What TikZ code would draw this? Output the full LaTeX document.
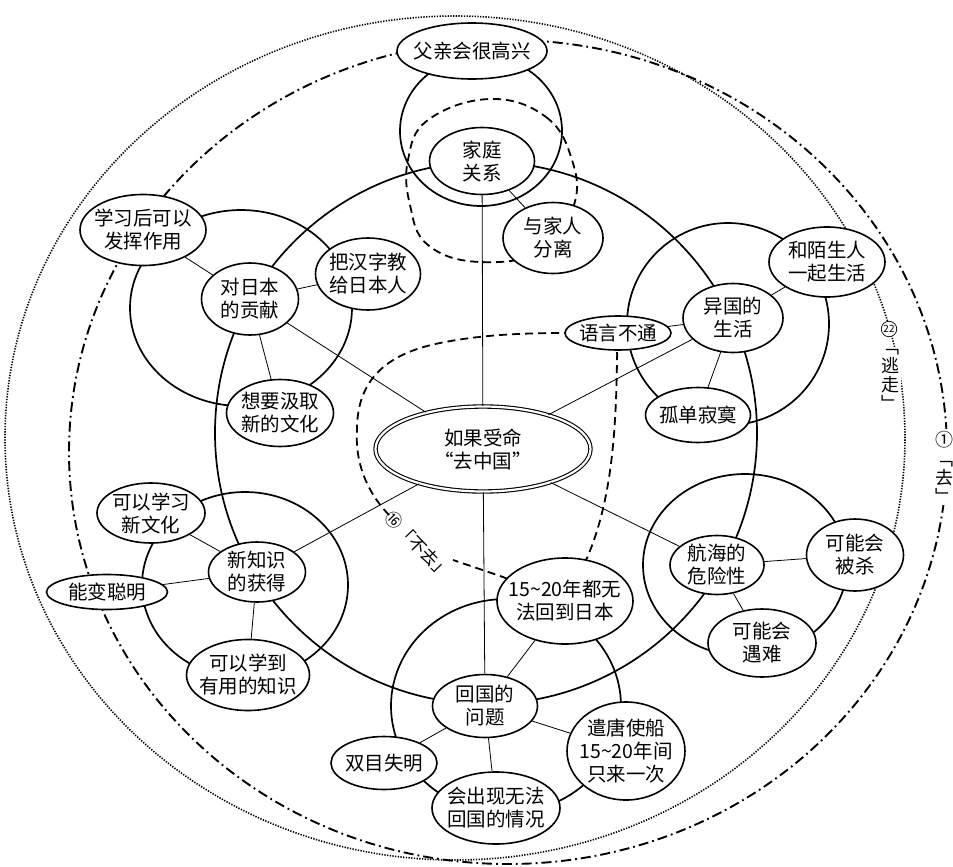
\documentclass[tikz,border=0pt]{standalone}
\usepackage{fontspec}
\setmainfont{Noto Sans CJK SC}
\usetikzlibrary{shapes.geometric}
\begin{document}
\begin{tikzpicture}[x=1pt,y=-1pt,
  ring/.style={line width=1.7pt},
  bub/.style 2 args={ellipse,draw,line width=1.6pt,fill=white,minimum width=#1pt,minimum height=#2pt,inner sep=0pt},
  txt/.style={align=center,inner sep=0pt,font=\fontsize{19.5}{23}\selectfont},
  spoke/.style={line width=0.8pt},
  dashdotline/.style={line width=1.9pt,dash pattern=on 10pt off 4pt on 1.8pt off 4pt},
  dotline/.style={line width=1.6pt,dash pattern=on 1.3pt off 1.4pt},
  dashline/.style={line width=1.8pt,dash pattern=on 8pt off 5pt},
  sidetag/.style={align=center,inner sep=2pt,fill=white,font=\fontsize{18}{19}\selectfont}]

\fill[white] (0,0) rectangle (953,867);
\useasboundingbox (0,0) rectangle (953,867);

% outer boundaries: "去" (dash-dot) and "逃走" (dotted)
\draw[dotline] (455,438) ellipse [x radius=450pt, y radius=422pt];
\draw[dashdotline] (508,452) ellipse [x radius=439pt, y radius=412pt];

% main ring and the six topic rings
\draw[ring] (486,433) circle [radius=271pt];
\draw[ring] (481,131) ellipse [x radius=81pt, y radius=75pt];
\draw[ring] (241,308) ellipse [x radius=111pt, y radius=98pt];
\draw[ring] (245,585) ellipse [x radius=103pt, y radius=93pt];
\draw[ring] (728,324) circle [radius=101pt];
\draw[ring] (745,565) ellipse [x radius=102pt, y radius=91pt];
\draw[ring] (506,706) ellipse [x radius=115pt, y radius=107pt];

% dashed loop round the family topic
\draw[dashline] plot[smooth cycle, tension=0.7] coordinates {(490,99) (546,117) (572,160) (574,205) (545,250) (480,262) (428,245) (410,205) (408,160) (428,120)};

% dashed "不去" boundary
\draw[dashline] (389,515) .. controls (365,490) and (355,460) .. (357,430)
  .. controls (357,385) and (380,355) .. (440,343)
  .. controls (480,335) and (520,333) .. (565,333) -- (600,333)
  .. controls (615,333) and (618,345) .. (617,360)
  .. controls (616,430) and (612,500) .. (587,558)
  .. controls (575,585) and (530,590) .. (503,577) -- (453,560);
\node[rotate=-46,inner sep=1pt,font=\fontsize{17}{17}\selectfont] (buqu) at (418,545) {⑯「不去」};

% side tags on the outer boundaries
\node[sidetag] (tao) at (890,380) {﹁\\逃\\走\\﹂};
\node[circle,draw,fill=white,line width=0.7pt,inner sep=0.8pt,font=\fontsize{10}{10}\selectfont] (n22) at (889,329) {22};
\node[sidetag] (qu) at (944,467) {①\\﹁\\去\\﹂};

% centre
\node[ellipse,draw,double,double distance=2.2pt,line width=1.1pt,fill=white,minimum width=215pt,minimum height=85pt,inner sep=0pt,label={[txt]center:如果受命\\“去中国”}] (root) at (483,449) {};

% family
\node[bub={150}{56},label={[txt]center:父亲会很高兴}] (fuqin) at (472,51) {};
\node[bub={105}{67},label={[txt]center:家庭\\关系}] (jiating) at (482,161) {};
\node[bub={100}{71},label={[txt]center:与家人\\分离}] (fenli) at (553,238) {};

% contribution to Japan
\node[bub={97}{72},label={[txt]center:对日本\\的贡献}] (gongxian) at (250,299) {};
\node[bub={126}{71},label={[txt]center:学习后可以\\发挥作用}] (fahui) at (143,230) {};
\node[bub={105}{72},label={[txt]center:把汉字教\\给日本人}] (hanzi) at (368,274) {};
\node[bub={107}{67},label={[txt]center:想要汲取\\新的文化}] (jiqu) at (280,413) {};

% new knowledge
\node[bub={97}{60},label={[txt]center:新知识\\的获得}] (zhishi) at (257,572) {};
\node[bub={108}{60},label={[txt]center:可以学习\\新文化}] (wenhua) at (151,513) {};
\node[bub={121}{35},label={[txt]center:能变聪明}] (congming) at (107,592) {};
\node[bub={123}{71},label={[txt]center:可以学到\\有用的知识}] (youyong) at (248,675) {};

% life abroad
\node[bub={100}{69},label={[txt]center:异国的\\生活}] (yiguo) at (733,318) {};
\node[bub={116}{70},label={[txt]center:和陌生人\\一起生活}] (mosheng) at (827,262) {};
\node[bub={106}{34},label={[txt]center:语言不通}] (yuyan) at (618,333) {};
\node[bub={105}{55},label={[txt]center:孤单寂寞}] (gudan) at (698,415) {};

% dangers of the voyage
\node[bub={94}{59},label={[txt]center:航海的\\危险性}] (hanghai) at (717,565) {};
\node[bub={97}{72},label={[txt]center:可能会\\被杀}] (beisha) at (855,555) {};
\node[bub={108}{68},label={[txt]center:可能会\\遇难}] (yunan) at (762,643) {};

% returning home
\node[bub={105}{63},label={[txt]center:回国的\\问题}] (huiguo) at (485,706) {};
\node[bub={136}{86},label={[txt]center:15\textasciitilde20年都无\\法回到日本}] (wufa) at (565,601) {};
\node[bub={118}{98},label={[txt]center:遣唐使船\\15\textasciitilde20年间\\只来一次}] (qiantang) at (626,751) {};
\node[bub={106}{53},label={[txt]center:双目失明}] (shiming) at (384,763) {};
\node[bub={128}{72},label={[txt]center:会出现无法\\回国的情况}] (qingkuang) at (496,808) {};

% connectors
\foreach \t in {jiating,huiguo,gongxian,zhishi,yiguo,hanghai}
  \draw[spoke] (root) -- (\t);
\draw[spoke] (jiating) -- (fenli);
\foreach \t in {fahui,hanzi,jiqu} \draw[spoke] (gongxian) -- (\t);
\foreach \t in {wenhua,congming,youyong} \draw[spoke] (zhishi) -- (\t);
\foreach \t in {mosheng,yuyan,gudan} \draw[spoke] (yiguo) -- (\t);
\foreach \t in {beisha,yunan} \draw[spoke] (hanghai) -- (\t);
\foreach \t in {wufa,qiantang,qingkuang,shiming} \draw[spoke] (huiguo) -- (\t);
\end{tikzpicture}
\end{document}
